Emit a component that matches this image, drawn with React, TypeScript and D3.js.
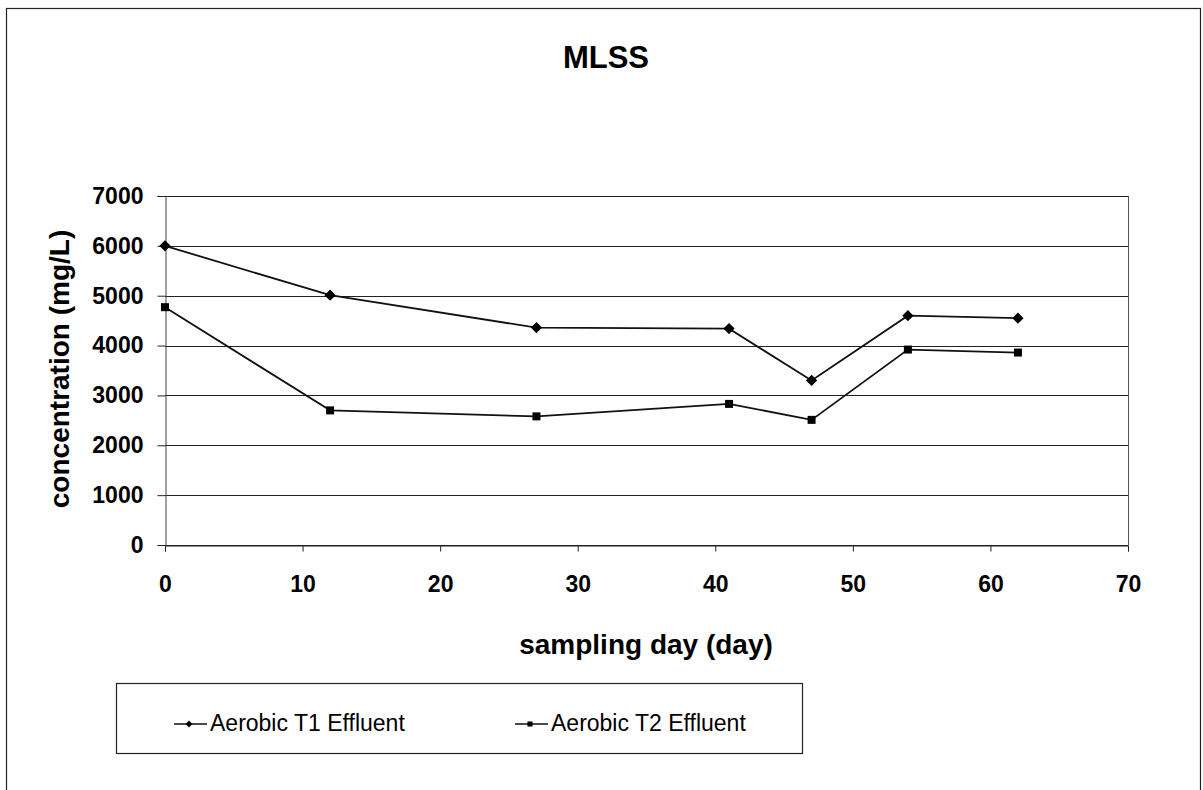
import { useRef, useEffect } from 'react';
import * as d3 from 'd3';

const days = [0, 12, 27, 41, 47, 54, 62];
const t1Values = [6000, 5010, 4360, 4340, 3300, 4600, 4550];
const t2Values = [4770, 2700, 2580, 2830, 2510, 3920, 3860];
const seriesNames = ['Aerobic T1 Effluent', 'Aerobic T2 Effluent'];
const xTicks = [0, 10, 20, 30, 40, 50, 60, 70];
const yTicks = [0, 1000, 2000, 3000, 4000, 5000, 6000, 7000];

const FONT = '"Liberation Sans", Arial, sans-serif';

export default function App() {
  const svgRef = useRef<SVGSVGElement>(null);
  const width = 1203;
  const height = 790;

  useEffect(() => {
    if (!svgRef.current) return;
    const svg = d3.select(svgRef.current);
    svg.selectAll('*').remove();

    // outer chart frame
    svg.append('rect')
      .attr('x', 6.5).attr('y', 8.5)
      .attr('width', 1194).attr('height', 800)
      .attr('fill', '#fff')
      .attr('stroke', '#222')
      .attr('stroke-width', 1.2);

    const left = 165, right = 1128, top = 196, bottom = 545;

    const x = d3.scaleLinear().domain([0, 70]).range([left, right]);
    const y = d3.scaleLinear().domain([0, 7000]).range([bottom, top]);

    // title
    svg.append('text')
      .attr('x', 606).attr('y', 68)
      .attr('text-anchor', 'middle')
      .attr('font-family', FONT)
      .attr('font-weight', 'bold')
      .attr('font-size', 31)
      .text('MLSS');

    // gridlines
    svg.append('g')
      .selectAll('line')
      .data(yTicks)
      .join('line')
      .attr('x1', left).attr('x2', right)
      .attr('y1', (d) => Math.round(y(d)) + 0.5)
      .attr('y2', (d) => Math.round(y(d)) + 0.5)
      .attr('stroke', '#222')
      .attr('stroke-width', 1);

    // right border of plot
    svg.append('line')
      .attr('x1', right + 0.5).attr('x2', right + 0.5)
      .attr('y1', y(7000)).attr('y2', y(0))
      .attr('stroke', '#555');

    // y axis
    const yAxis = svg.append('g')
      .attr('transform', `translate(${left + 0.5},0)`)
      .call(d3.axisLeft(y).tickValues(yTicks).tickSize(8).tickPadding(14).tickFormat(d3.format('d')));
    yAxis.select('.domain').attr('stroke', '#444');
    yAxis.selectAll('line').attr('stroke', '#222');
    yAxis.selectAll('text')
      .attr('font-family', FONT)
      .attr('font-weight', 'bold')
      .attr('font-size', 23)
      .attr('fill', '#000');

    // x axis
    const xAxis = svg.append('g')
      .attr('transform', `translate(0,${Math.round(y(0)) + 0.5})`)
      .call(d3.axisBottom(x).tickValues(xTicks).tickSize(6).tickPadding(24).tickFormat(d3.format('d')));
    xAxis.select('.domain').attr('stroke', '#222');
    xAxis.selectAll('line').attr('stroke', '#222');
    xAxis.selectAll('text')
      .attr('font-family', FONT)
      .attr('font-weight', 'bold')
      .attr('font-size', 23)
      .attr('fill', '#000');

    // axis titles
    svg.append('text')
      .attr('x', 646).attr('y', 654)
      .attr('text-anchor', 'middle')
      .attr('font-family', FONT)
      .attr('font-weight', 'bold')
      .attr('font-size', 28)
      .text('sampling day (day)');

    svg.append('text')
      .attr('transform', `translate(69,369) rotate(-90)`)
      .attr('text-anchor', 'middle')
      .attr('font-family', FONT)
      .attr('font-weight', 'bold')
      .attr('font-size', 28)
      .text('concentration (mg/L)');

    // lines
    const series = [t1Values, t2Values];
    const line = d3.line<number>()
      .x((_, i) => x(days[i]))
      .y((d) => y(d));

    series.forEach((vals) => {
      svg.append('path')
        .datum(vals)
        .attr('fill', 'none')
        .attr('stroke', '#111')
        .attr('stroke-width', 1.8)
        .attr('d', line);
    });

    const diamond = d3.symbol().type(d3.symbolDiamond2).size(80);
    const square = d3.symbol().type(d3.symbolSquare).size(64);

    svg.append('g')
      .selectAll('path')
      .data(t1Values)
      .join('path')
      .attr('transform', (d, i) => `translate(${x(days[i])},${y(d)})`)
      .attr('d', diamond)
      .attr('fill', '#000');

    svg.append('g')
      .selectAll('path')
      .data(t2Values)
      .join('path')
      .attr('transform', (d, i) => `translate(${x(days[i])},${y(d)})`)
      .attr('d', square)
      .attr('fill', '#000');

    // legend
    const lg = svg.append('g');
    lg.append('rect')
      .attr('x', 116.5).attr('y', 683.5)
      .attr('width', 686).attr('height', 70)
      .attr('fill', '#fff')
      .attr('stroke', '#222')
      .attr('stroke-width', 1.2);

    const legendX = [174, 515];
    const markers = [d3.symbol().type(d3.symbolDiamond2).size(30), d3.symbol().type(d3.symbolSquare).size(26)];
    seriesNames.forEach((name, i) => {
      const lx = legendX[i];
      lg.append('line')
        .attr('x1', lx).attr('x2', lx + 33)
        .attr('y1', 724).attr('y2', 724)
        .attr('stroke', '#111')
        .attr('stroke-width', 1.5);
      lg.append('path')
        .attr('transform', `translate(${lx + 15},724)`)
        .attr('d', markers[i])
        .attr('fill', '#000');
      lg.append('text')
        .attr('x', lx + 36).attr('y', 731)
        .attr('font-family', FONT)
        .attr('font-size', 23)
        .attr('fill', '#000')
        .text(name);
    });
  }, []);

  return (
    <svg
      ref={svgRef}
      width={width}
      height={height}
      style={{ position: 'absolute', left: 0, top: 0, background: '#fff' }}
    />
  );
}
